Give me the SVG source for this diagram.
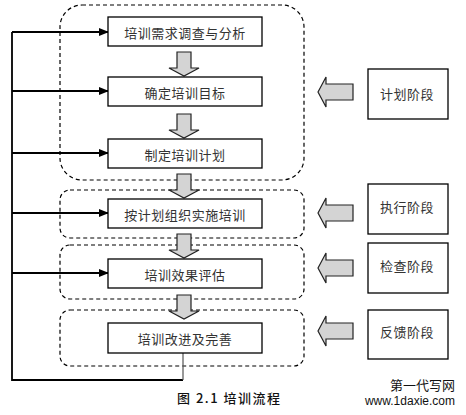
<svg xmlns="http://www.w3.org/2000/svg" width="466" height="415" viewBox="0 0 466 415">
<defs>
<style>
.box{fill:#fff;stroke:#000;stroke-width:1.3}
.grp{fill:none;stroke:#000;stroke-width:1.2;stroke-dasharray:4 3}
.t{font-family:"Noto Sans CJK SC","Noto Sans CJK JP",sans-serif;font-size:13px;fill:#333;text-anchor:middle;dominant-baseline:central;letter-spacing:0.5px}
.blk{fill:#d4d4d4;stroke:#222;stroke-width:1.2}
.ln{fill:none;stroke:#000;stroke-width:1.8}
</style>
<marker id="ah" markerWidth="10" markerHeight="8" refX="9" refY="4" orient="auto" markerUnits="userSpaceOnUse">
<path d="M0,0 L10,4 L0,8 Z" fill="#000"/>
</marker>
<path id="down" d="M-7,0 H7 V16 H15 L0,24 L-15,16 H-7 Z"/>
<path id="left" d="M0,0 L8,-15 V-8 H35 V8 H8 V15 Z"/>
</defs>
<rect width="466" height="415" fill="#fff"/>
<g id="groups">
<rect class="grp" x="60" y="5" width="244" height="175" rx="22"/>
<rect class="grp" x="60" y="190" width="244" height="48" rx="10"/>
<rect class="grp" x="60" y="245" width="244" height="54" rx="10"/>
<rect class="grp" x="60" y="310" width="244" height="56" rx="10"/>
</g>
<g id="connectors">
<path class="ln" d="M12,32 V380 H183"/>
<path d="M183,380 V353" fill="none" stroke="#555" stroke-width="1.2"/>
<line class="ln" x1="12" y1="32" x2="108" y2="32" marker-end="url(#ah)"/>
<line class="ln" x1="12" y1="91" x2="108" y2="91" marker-end="url(#ah)"/>
<line class="ln" x1="12" y1="153" x2="108" y2="153" marker-end="url(#ah)"/>
<line class="ln" x1="12" y1="213" x2="108" y2="213" marker-end="url(#ah)"/>
<line class="ln" x1="12" y1="273" x2="108" y2="273" marker-end="url(#ah)"/>
<use href="#down" class="blk" x="184" y="52"/>
<use href="#down" class="blk" x="184" y="114"/>
<use href="#down" class="blk" x="184" y="174"/>
<use href="#down" class="blk" x="184" y="234"/>
<use href="#down" class="blk" x="184" y="295"/>
<use href="#left" class="blk" x="318" y="92"/>
<use href="#left" class="blk" x="318" y="213"/>
<use href="#left" class="blk" x="318" y="268"/>
<use href="#left" class="blk" x="318" y="331"/>
</g>
<g id="n1"><rect class="box" x="108" y="17" width="154" height="29"/><text class="t" x="185" y="32">培训需求调查与分析</text></g>
<g id="n2"><rect class="box" x="108" y="77" width="154" height="29"/><text class="t" x="185" y="92">确定培训目标</text></g>
<g id="n3"><rect class="box" x="108" y="139" width="154" height="29"/><text class="t" x="185" y="154">制定培训计划</text></g>
<g id="n4"><rect class="box" x="108" y="199" width="154" height="29"/><text class="t" x="185" y="214">按计划组织实施培训</text></g>
<g id="n5"><rect class="box" x="108" y="259" width="154" height="29"/><text class="t" x="185" y="274">培训效果评估</text></g>
<g id="n6"><rect class="box" x="108" y="323" width="154" height="30"/><text class="t" x="185" y="338">培训改进及完善</text></g>
<g id="s1"><rect class="box" x="368" y="69" width="80" height="50"/><text class="t" x="407" y="93">计划阶段</text></g>
<g id="s2"><rect class="box" x="368" y="184" width="80" height="50"/><text class="t" x="407" y="206">执行阶段</text></g>
<g id="s3"><rect class="box" x="368" y="243" width="80" height="50"/><text class="t" x="407" y="265">检查阶段</text></g>
<g id="s4"><rect class="box" x="368" y="310" width="80" height="49"/><text class="t" x="407" y="331">反馈阶段</text></g>
<text x="177" y="403" font-family="'Noto Sans CJK SC',sans-serif" font-size="13" font-weight="500" fill="#111" letter-spacing="1.5">图 2.1  培训流程</text>
<text x="455" y="390" font-family="'Noto Sans CJK SC',sans-serif" font-size="13" fill="#111" text-anchor="end">第一代写网</text>
<text x="455" y="405" font-family="'Liberation Sans',sans-serif" font-size="12" fill="#111" text-anchor="end">www.1daxie.com</text>
</svg>
